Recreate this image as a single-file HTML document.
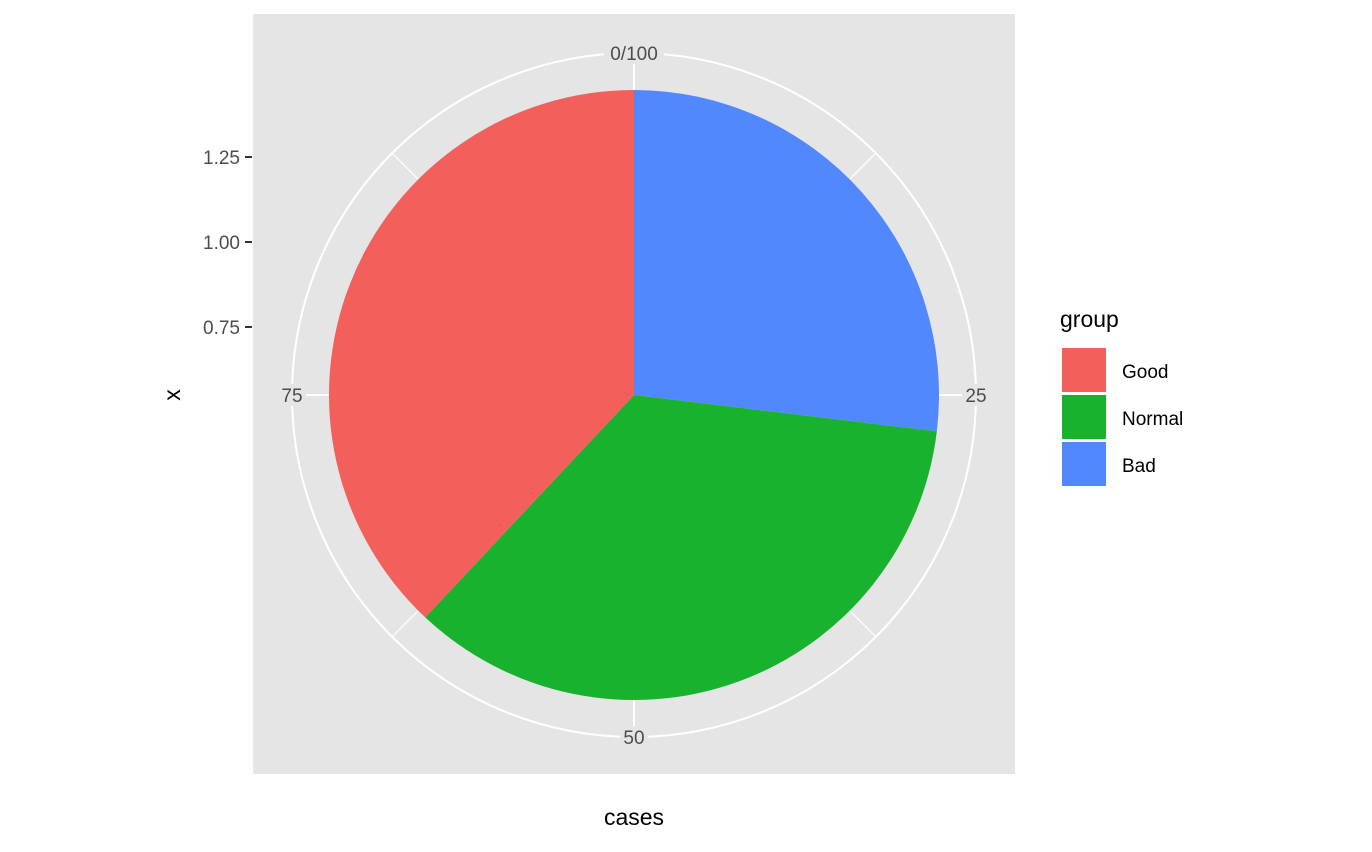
<!DOCTYPE html>
<html><head><meta charset="utf-8"><style>
body{margin:0;background:#fff}
svg text{font-family:"Liberation Sans",Arial,sans-serif}
</style></head><body>
<svg width="1372" height="847" viewBox="0 0 1372 847">
<rect x="253" y="14" width="762" height="760" fill="#e5e5e5"/>
<g id="grid"></g>
<g id="slices"></g>
<g id="theta-labels" font-size="19" fill="#4d4d4d"></g>
<g font-size="19" fill="#4d4d4d" id="yaxis"></g>
<text x="180" y="395" font-size="23" text-anchor="middle" transform="rotate(-90 180 395)">x</text>
<text x="634" y="825" font-size="23" text-anchor="middle">cases</text>
<g id="legend">
<text x="1060" y="327" font-size="23">group</text>
</g>
</svg>
<script>
const categories = ["Good","Normal","Bad"];
const values = [38, 35.1, 26.9];
const colors = ["#f35f5a","#19b22e","#5288fe"];
const thetaTicks = [0,25,50,75];
const thetaLabels = ["0/100","25","50","75"];
const yTicks = [0.75,1.00,1.25];
const yTickLabels = ["0.75","1.00","1.25"];

const NS="http://www.w3.org/2000/svg";
const cx=634, cy=395, R=305, RG=342;
const total=values.reduce((a,b)=>a+b,0);
function ang(v){return v/total*2*Math.PI;}
function pt(v,r){const a=ang(v);return [cx+r*Math.sin(a), cy-r*Math.cos(a)];}
function mk(tag,attrs,parent){const e=document.createElementNS(NS,tag);for(const k in attrs)e.setAttribute(k,attrs[k]);parent.appendChild(e);return e;}

const grid=document.getElementById('grid');
const oc=mk('circle',{cx:cx,cy:cy,r:RG,fill:'none',stroke:'#fff','stroke-width':2},grid);


for(let k=0;k<8;k++){
  const v=k*12.5*total/100;
  const [x1,y1]=pt(v,R-10),[x2,y2]=pt(v,RG);
  const l=mk('line',{x1:x1,y1:y1,x2:x2,y2:y2,stroke:'#fff','stroke-width':k%2?1.2:2},grid);
  
  
}
const sg=document.getElementById('slices');
let start=0;
for(let i=categories.length-1;i>=0;i--){
  const end=start+values[i];
  const [x1,y1]=pt(start,R),[x2,y2]=pt(end,R);
  const large=values[i]/total>0.5?1:0;
  const p=mk('path',{d:`M${cx},${cy}L${x1},${y1}A${R},${R} 0 ${large} 1 ${x2},${y2}Z`,fill:colors[i]},sg);
  
  
  start=end;
}
const tl=document.getElementById('theta-labels');
thetaTicks.forEach((t,i)=>{
  const [x,y]=pt(t*total/100,RG);
  const r=mk('rect',{x:x-(i==0?30:14),y:y-11,width:i==0?60:28,height:22,fill:'#e5e5e5'},tl);
  
  
  const tx=mk('text',{x:x,y:y+7,'text-anchor':'middle'},tl);
  tx.textContent=thetaLabels[i];
  
  
});
const ya=document.getElementById('yaxis');
function yScale(v){return 242-(v-1)*340;}
yTicks.forEach((t,i)=>{
  const y=yScale(t);
  const l=mk('line',{x1:245,x2:252,y1:y,y2:y,stroke:'#333','stroke-width':2},ya);
  
  
  const tx=mk('text',{x:240,y:y+7,'text-anchor':'end'},ya);
  tx.textContent=yTickLabels[i];
  
  
});
const lg=document.getElementById('legend');
categories.forEach((c,i)=>{
  const y=348+i*47;
  const r=mk('rect',{x:1062,y:y,width:44,height:44,fill:colors[i]},lg);
  
  
  const tx=mk('text',{x:1122,y:y+30,'font-size':19},lg);
  tx.textContent=c;
  
  
});
</script>
</body></html>
